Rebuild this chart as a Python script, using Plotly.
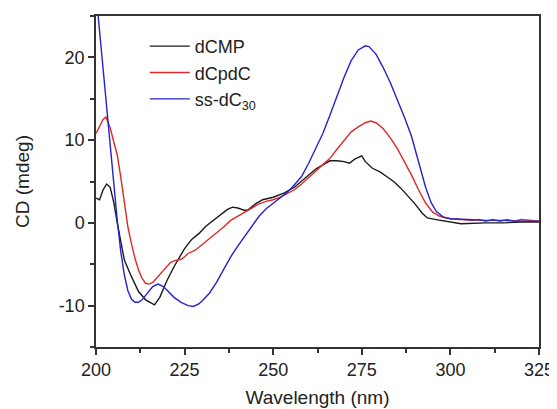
import plotly.graph_objects as go

# dCMP
x_dcmp = [200, 201, 202, 203, 204, 205, 206, 207, 208, 210, 212, 214, 215, 216.5, 218, 220, 222, 224, 225,
          227, 229, 231, 233, 235, 237, 238.5, 240, 242, 243, 245, 247, 250, 253, 256, 258, 260, 262, 264,
          266, 268, 270, 271.5, 273, 275, 276, 278, 280, 282, 284, 286, 288, 290, 292, 293.5, 296, 300,
          303, 310, 315, 320, 325]
y_dcmp = [3.0, 2.8, 4.0, 4.7, 4.3, 2.5, 0.0, -2.5, -4.5, -6.5, -8.3, -9.3, -9.5, -9.9, -9.0, -7.0, -5.3, -3.8,
          -3.1, -2.0, -1.3, -0.4, 0.3, 0.9, 1.6, 1.9, 1.8, 1.5, 1.6, 2.3, 2.8, 3.1, 3.6, 4.3, 5.0, 5.8, 6.5,
          7.0, 7.5, 7.5, 7.4, 7.2, 7.7, 8.1, 7.4, 6.6, 6.2, 5.6, 5.0, 4.2, 3.3, 2.3, 1.2, 0.6, 0.4, 0.1,
          -0.1, 0.0, 0.0, 0.1, 0.1]

# dCpdC
x_dcpdc = [200, 201, 202, 202.8, 204, 205, 206, 207, 208, 209, 210, 211, 212, 213, 214, 215, 216, 217, 218,
           219, 220, 221, 222, 223, 224, 225, 226, 228, 230, 232, 234, 236, 238, 240, 242, 244, 246, 248,
           250, 252, 254, 256, 258, 260, 262, 264, 266, 268, 270, 272, 274, 276, 277.5, 279, 281, 283, 285,
           287, 289, 291, 293, 295, 297, 300, 303, 306, 308, 310, 312, 314, 316, 318, 320, 322, 325]
y_dcpdc = [10.8, 11.6, 12.5, 12.8, 11.5, 9.8, 8.2, 5.5, 2.5, -0.5, -2.5, -4.3, -5.7, -6.7, -7.3, -7.4, -7.2,
           -6.7, -6.2, -5.8, -5.3, -4.8, -4.6, -4.5, -4.4, -4.1, -3.7, -3.3, -2.6, -2.0, -1.3, -0.5, 0.3, 0.8,
           1.3, 1.8, 2.3, 2.6, 2.8, 3.1, 3.5, 4.0, 4.7, 5.5, 6.3, 7.0, 7.8, 8.9, 10.0, 11.0, 11.6, 12.1, 12.3,
           12.1, 11.4, 10.3, 9.0, 7.4, 5.8, 4.0, 2.4, 1.3, 0.8, 0.5, 0.4, 0.3, 0.4, 0.2, 0.4, 0.2, 0.4, 0.2,
           0.4, 0.3, 0.2]

# ss-dC30
x_dc30 = [200, 201, 202, 203, 204, 205, 206, 207, 208, 209, 210, 211, 212, 213, 214, 215, 216, 217.5, 219,
          220, 222, 224, 226, 227.5, 229, 230, 232, 234, 236, 238, 240, 242, 244, 246, 248, 250, 252, 254,
          256, 258, 260, 262, 264, 266, 268, 270, 272, 274, 276, 277, 279, 281, 283, 285, 287, 289, 291,
          293, 294.5, 296, 298, 300, 305, 310, 315, 320, 325]
y_dc30 = [27.8, 23.2, 18.5, 13.9, 9.2, 4.6, 0.3, -3.5, -6.3, -8.2, -9.2, -9.6, -9.6, -9.3, -8.8, -8.2, -7.7,
          -7.4, -7.7, -8.1, -9.0, -9.6, -10.0, -10.1, -9.8, -9.4, -8.5, -7.2, -5.7, -4.1, -2.8, -1.6, -0.3,
          0.8, 1.7, 2.4, 3.0, 3.7, 4.6, 5.6, 7.2, 8.9, 10.8, 13.0, 15.3, 17.6, 19.6, 20.9, 21.4, 21.3, 20.4,
          18.8, 17.0, 15.0, 12.8, 10.5, 7.5, 4.3, 2.5, 1.4, 0.7, 0.5, 0.4, 0.3, 0.3, 0.2, 0.2]

x_ticks = [200, 225, 250, 275, 300, 325]
x_labels = ["200", "225", "250", "275", "300", "325"]
y_ticks = [-10, 0, 10, 20]
y_labels = ["-10", "0", "10", "20"]

FONT = "Arial, Liberation Sans, sans-serif"
AX = "#333333"

fig = go.Figure()
fig.add_trace(go.Scatter(x=x_dcmp, y=y_dcmp, mode="lines", name="dCMP",
                         line=dict(color="#1a1a1a", width=1.4)))
fig.add_trace(go.Scatter(x=x_dcpdc, y=y_dcpdc, mode="lines", name="dCpdC",
                         line=dict(color="#e02828", width=1.4)))
fig.add_trace(go.Scatter(x=x_dc30, y=y_dc30, mode="lines", name="ss-dC<sub>30</sub>",
                         line=dict(color="#2323d0", width=1.4)))

# page body has an 8px margin, so the figure is 8px smaller than the window
fig.update_layout(
    width=549, height=401,
    margin=dict(l=88, r=18, t=8, b=62),
    paper_bgcolor="white", plot_bgcolor="white",
    font=dict(family=FONT, size=18, color="#222222"),
    showlegend=True,
    legend=dict(x=0.11, y=0.964, xanchor="left", yanchor="top", bgcolor="rgba(0,0,0,0)",
                font=dict(size=18), itemwidth=40, tracegroupgap=0),
)
fig.update_xaxes(range=[200, 325], tickvals=x_ticks, ticktext=x_labels, ticks="outside", ticklen=6,
                 tickwidth=1.5, tickcolor=AX, showline=True, linecolor=AX, linewidth=1.5, mirror=True,
                 showgrid=False, zeroline=False, automargin=False,
                 minor=dict(dtick=12.5, tick0=200, ticks="outside", ticklen=4, tickcolor=AX, tickwidth=1.5),
                 title=dict(text="Wavelength (nm)", standoff=11, font=dict(size=19)),
                 tickfont=dict(size=18))
fig.update_yaxes(range=[-15, 25], tickvals=y_ticks, ticktext=y_labels, ticks="outside", ticklen=6,
                 tickwidth=1.5, tickcolor=AX, showline=True, linecolor=AX, linewidth=1.5, mirror=True,
                 showgrid=False, zeroline=False, automargin=False,
                 minor=dict(dtick=5, tick0=0, ticks="outside", ticklen=4, tickcolor=AX, tickwidth=1.5),
                 title=dict(text="CD (mdeg)", standoff=24, font=dict(size=19)),
                 tickfont=dict(size=18))

fig.write_html("out.html")
